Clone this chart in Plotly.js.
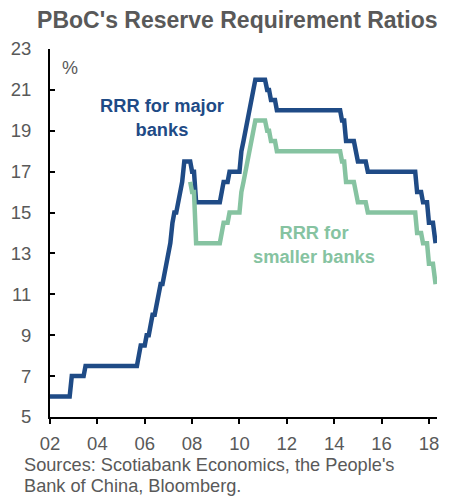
<!DOCTYPE html>
<html>
<head>
<meta charset="utf-8">
<script src="https://cdn.plot.ly/plotly-3.0.1.min.js"></script>
<style>html,body{margin:0;padding:0;background:#fff;}#chart{width:459px;height:500px;}</style>
</head>
<body>
<div id="chart"></div>
<script>
// Positions on the chart's time axis (decimal years, as placed in the picture)
const majorX = [2002.00, 2002.83, 2002.92, 2003.42, 2003.50, 2005.67, 2005.75, 2005.83, 2006.00, 2006.08,
  2006.17, 2006.25, 2006.33, 2006.42, 2006.50, 2006.58, 2006.67, 2006.75, 2006.83, 2006.92,
  2007.00, 2007.08, 2007.17, 2007.25, 2007.33, 2007.42, 2007.50, 2007.58, 2007.67, 2007.92,
  2008.00, 2008.08, 2008.17, 2009.17, 2009.25, 2009.33, 2009.50, 2009.58, 2010.00, 2010.08,
  2010.17, 2010.25, 2010.33, 2010.42, 2010.50, 2010.58, 2010.67, 2011.08, 2011.17, 2011.25,
  2011.33, 2011.50, 2011.58, 2014.25, 2014.33, 2014.42, 2014.50, 2014.83, 2014.92, 2015.00,
  2015.33, 2015.42, 2017.42, 2017.50, 2017.67, 2017.75, 2017.92, 2018.00, 2018.17, 2018.28];
const majorY = [6, 6, 7, 7, 7.5, 7.5, 8, 8.5, 8.5, 9,
  9, 9.5, 10, 10, 10.5, 11, 11.5, 11.5, 12, 12.5,
  13, 13.5, 14.5, 15, 15, 15.5, 16, 16.5, 17.5, 17.5,
  17, 17, 15.5, 15.5, 16, 16.5, 16.5, 17, 17, 18,
  18.5, 19, 19.5, 20, 20.5, 21, 21.5, 21.5, 21, 21,
  20.5, 20.5, 20, 20, 19.5, 19.5, 18.5, 18.5, 18, 17.5,
  17.5, 17, 17, 16, 16, 15.5, 15.5, 14.5, 14.5, 13.5];

const smallX = [2007.92, 2008.00, 2008.08, 2008.17, 2009.17, 2009.25, 2009.33, 2009.50, 2009.58, 2010.00,
  2010.08, 2010.17, 2010.25, 2010.33, 2010.42, 2010.50, 2010.58, 2010.67, 2011.08, 2011.17,
  2011.25, 2011.33, 2011.50, 2011.58, 2014.25, 2014.33, 2014.42, 2014.50, 2014.83, 2014.92,
  2015.00, 2015.33, 2015.42, 2017.42, 2017.50, 2017.67, 2017.75, 2017.92, 2018.00, 2018.17,
  2018.28];
const smallY = [16.5, 16, 16, 13.5, 13.5, 14, 14.5, 14.5, 15, 15,
  16, 16.5, 17, 17.5, 18, 18.5, 19, 19.5, 19.5, 19,
  19, 18.5, 18.5, 18, 18, 17.5, 17.5, 16.5, 16.5, 16,
  15.5, 15.5, 15, 15, 14, 14, 13.5, 13.5, 12.5, 12.5,
  11.5];

const xTickVals = [2002, 2004, 2006, 2008, 2010, 2012, 2014, 2016, 2018];
const xTickText = ['02', '04', '06', '08', '10', '12', '14', '16', '18'];
const yTickVals = [5, 7, 9, 11, 13, 15, 17, 19, 21, 23];

const BLUE = '#1F4B86';
const GREEN = '#86C3A1';
const GREY = '#595959';
const FONT = 'Liberation Sans, Arial, sans-serif';

const traces = [
  {x: majorX, y: majorY, type: 'scatter', mode: 'lines', name: 'RRR for major banks',
   line: {color: BLUE, width: 4.5}, hoverinfo: 'skip'},
  {x: smallX, y: smallY, type: 'scatter', mode: 'lines', name: 'RRR for smaller banks',
   line: {color: GREEN, width: 4.5}, hoverinfo: 'skip'}
];

const layout = {
  width: 459, height: 500,
  margin: {l: 50, r: 22, t: 49, b: 83},
  paper_bgcolor: '#ffffff', plot_bgcolor: '#ffffff',
  showlegend: false,
  font: {family: FONT, color: GREY, size: 18},
  title: {text: "<b>PBoC's Reserve Requirement Ratios</b>", font: {family: FONT, size: 23, color: GREY},
          x: 0.517, xanchor: 'center', y: 0.960, yanchor: 'middle'},
  xaxis: {range: [2002, 2018.34], tickvals: xTickVals, ticktext: xTickText, showgrid: false, zeroline: false,
          showline: true, linecolor: '#000', linewidth: 2, ticks: 'outside', ticklen: 5, tickwidth: 2,
          tickcolor: '#000', tickfont: {size: 18.5, color: GREY}, ticklabelstandoff: 4, fixedrange: true},
  yaxis: {range: [5, 23], tickvals: yTickVals, showgrid: false, zeroline: false,
          showline: true, linecolor: '#000', linewidth: 2, ticks: 'inside', ticklen: 5, tickwidth: 2,
          tickcolor: '#000', tickfont: {size: 18.5, color: GREY}, ticklabelstandoff: 13, fixedrange: true},
  annotations: [
    {text: '%', xref: 'paper', yref: 'paper', x: 0.052, y: 0.948, showarrow: false,
     font: {size: 18, color: GREY}, xanchor: 'center', yanchor: 'middle'},
    {text: '<b>RRR for major<br>banks</b>', xref: 'paper', yref: 'paper', x: 0.289, y: 0.815, showarrow: false,
     font: {size: 18.3, color: BLUE}, xanchor: 'center', yanchor: 'middle', align: 'center'},
    {text: '<b>RRR for<br>smaller banks</b>', xref: 'paper', yref: 'paper', x: 0.682, y: 0.469, showarrow: false,
     font: {size: 18.3, color: GREEN}, xanchor: 'center', yanchor: 'middle', align: 'center'},
    {text: "Sources: Scotiabank Economics, the People's", xref: 'paper', yref: 'paper', x: -0.072, y: -0.131,
     showarrow: false, font: {size: 18.2, color: GREY}, xanchor: 'left', yanchor: 'middle'},
    {text: 'Bank of China, Bloomberg.', xref: 'paper', yref: 'paper', x: -0.072, y: -0.188,
     showarrow: false, font: {size: 18.2, color: GREY}, xanchor: 'left', yanchor: 'middle'}
  ]
};

Plotly.newPlot('chart', traces, layout, {displayModeBar: false, staticPlot: true});
</script>
</body>
</html>
